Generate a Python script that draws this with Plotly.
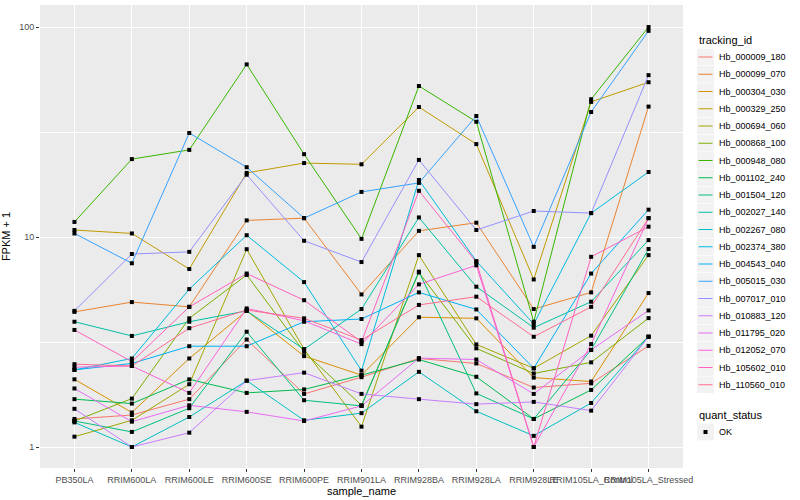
import plotly.graph_objects as go

samples = ["PB350LA", "RRIM600LA", "RRIM600LE", "RRIM600SE", "RRIM600PE", "RRIM901LA",
           "RRIM928BA", "RRIM928LA", "RRIM928LE", "RRIM105LA_Control", "RRIM105LA_Stressed"]

hb_000009_180 = [1.36, 1.42, 1.69, 3.25, 1.79, 2.15, 2.64, 2.5, 1.92, 2.01, 3.03]
hb_000099_070 = [4.4, 4.9, 4.65, 12.0, 12.3, 5.33, 10.7, 11.7, 4.54, 5.45, 41.8]
hb_000304_030 = [2.1, 1.46, 2.64, 4.45, 2.71, 2.2, 4.15, 4.1, 2.14, 2.05, 5.41]
hb_000329_250 = [10.8, 10.4, 7.04, 20.2, 22.5, 22.2, 41.6, 27.7, 6.28, 44.0, 54.6]
hb_000694_060 = [1.12, 1.34, 1.99, 8.75, 2.92, 1.25, 8.2, 3.08, 2.37, 3.39, 8.2]
hb_000868_100 = [1.33, 1.70, 4.1, 6.6, 2.84, 1.58, 6.78, 2.95, 2.24, 2.53, 4.11]
hb_000948_080 = [11.8, 23.5, 26.0, 66.4, 24.8, 9.8, 52.4, 35.4, 3.95, 45.3, 100.0]
hb_001102_240 = [1.69, 1.61, 2.1, 1.81, 1.88, 2.2, 2.61, 2.16, 1.36, 1.87, 3.35]
hb_001504_120 = [1.33, 1.18, 1.53, 3.54, 1.67, 1.57, 6.84, 1.80, 1.36, 2.9, 8.77]
hb_002027_140 = [3.95, 3.38, 3.95, 4.45, 2.92, 4.54, 12.4, 5.8, 3.70, 4.92, 9.67]
hb_002267_080 = [1.31, 1.0, 1.39, 2.07, 1.34, 1.45, 2.28, 1.48, 1.13, 1.62, 3.35]
hb_002374_380 = [2.33, 2.64, 5.65, 10.2, 6.1, 2.31, 18.7, 7.68, 3.85, 13.0, 20.4]
hb_004543_040 = [2.33, 2.5, 3.02, 3.02, 3.95, 4.07, 5.45, 4.52, 2.37, 6.7, 13.5]
hb_005015_030 = [10.4, 7.5, 31.3, 21.5, 12.3, 16.4, 18.1, 37.7, 8.98, 39.4, 95.9]
hb_007017_010 = [4.45, 8.3, 8.5, 19.8, 9.6, 7.6, 23.3, 10.8, 13.3, 13.0, 59.0]
hb_010883_120 = [1.52, 1.0, 1.17, 2.07, 2.26, 1.79, 1.69, 1.6, 1.64, 1.49, 3.35]
hb_011795_020 = [1.9, 1.32, 1.58, 1.47, 1.33, 1.57, 2.65, 2.61, 1.79, 2.9, 4.47]
hb_012052_070 = [2.40, 2.43, 1.81, 4.57, 3.99, 3.09, 5.95, 7.33, 1.0, 3.09, 12.3]
hb_105602_010 = [3.61, 2.55, 4.65, 6.7, 5.0, 3.17, 16.6, 7.6, 1.0, 8.05, 11.2]
hb_110560_010 = [2.48, 2.43, 3.68, 4.49, 4.1, 3.23, 4.75, 5.2, 3.35, 4.65, 12.3]

tracking_ids = ["Hb_000009_180", "Hb_000099_070", "Hb_000304_030", "Hb_000329_250", "Hb_000694_060",
                "Hb_000868_100", "Hb_000948_080", "Hb_001102_240", "Hb_001504_120", "Hb_002027_140",
                "Hb_002267_080", "Hb_002374_380", "Hb_004543_040", "Hb_005015_030", "Hb_007017_010",
                "Hb_010883_120", "Hb_011795_020", "Hb_012052_070", "Hb_105602_010", "Hb_110560_010"]
series = [hb_000009_180, hb_000099_070, hb_000304_030, hb_000329_250, hb_000694_060,
          hb_000868_100, hb_000948_080, hb_001102_240, hb_001504_120, hb_002027_140,
          hb_002267_080, hb_002374_380, hb_004543_040, hb_005015_030, hb_007017_010,
          hb_010883_120, hb_011795_020, hb_012052_070, hb_105602_010, hb_110560_010]
colors = ["#F8766D", "#EA8331", "#D89000", "#C09B00", "#A3A500", "#7CAE00", "#39B600", "#00BB4E",
          "#00BF7D", "#00C1A3", "#00BFC4", "#00BAE0", "#00B0F6", "#35A2FF", "#9590FF", "#C77CFF",
          "#E76BF3", "#FA62DB", "#FF62BC", "#FF6C91"]
status_levels = ["OK"]

FONT = "Liberation Sans, Arial, sans-serif"
W, H = 800, 500
ML, MR, MT, MB = 40, 117, 5, 32
PW, PH = W - ML - MR, H - MT - MB


def px(xp):
    return (xp - ML) / PW


def py(yp):
    return (H - MB - yp) / PH


fig = go.Figure()
for name, vals, col in zip(tracking_ids, series, colors):
    fig.add_trace(go.Scatter(x=samples, y=vals, mode="lines", name=name,
                             line=dict(color=col, width=1), showlegend=False))

all_x = [s for vals in series for s in samples]
all_y = [v for vals in series for v in vals]
fig.add_trace(go.Scatter(x=all_x, y=all_y, mode="markers", name=status_levels[0], showlegend=False,
                         marker=dict(color="black", symbol="square", size=4)))

# ---- manual ggplot-style legends ----
shapes = []
annotations = []
key_x0, key_x1 = 697, 714
text_x = 717
title_y = 40
item_y0, item_dy = 57, 17.25
annotations.append(dict(x=px(key_x0), y=py(title_y), xref="paper", yref="paper", text="tracking_id",
                        showarrow=False, xanchor="left", yanchor="middle", font=dict(size=11, color="black")))
for i, (name, col) in enumerate(zip(tracking_ids, colors)):
    yc = item_y0 + i * item_dy
    shapes.append(dict(type="rect", xref="paper", yref="paper", x0=px(key_x0), x1=px(key_x1),
                       y0=py(yc - 8.3), y1=py(yc + 8.3), fillcolor="#F2F2F2", line=dict(width=0), layer="above"))
    shapes.append(dict(type="line", xref="paper", yref="paper", x0=px(key_x0 + 1.5), x1=px(key_x1 - 1.5),
                       y0=py(yc), y1=py(yc), line=dict(color=col, width=1), layer="above"))
    annotations.append(dict(x=px(text_x), y=py(yc), xref="paper", yref="paper", text=name,
                            showarrow=False, xanchor="left", yanchor="middle", font=dict(size=9, color="black")))

qs_title_y = 415
ok_y = 432
annotations.append(dict(x=px(key_x0), y=py(qs_title_y), xref="paper", yref="paper", text="quant_status",
                        showarrow=False, xanchor="left", yanchor="middle", font=dict(size=11, color="black")))
shapes.append(dict(type="rect", xref="paper", yref="paper", x0=px(key_x0), x1=px(key_x1),
                   y0=py(ok_y - 8.3), y1=py(ok_y + 8.3), fillcolor="#F2F2F2", line=dict(width=0), layer="above"))
kc = (key_x0 + key_x1) / 2
shapes.append(dict(type="rect", xref="paper", yref="paper", x0=px(kc - 2), x1=px(kc + 2),
                   y0=py(ok_y - 2), y1=py(ok_y + 2), fillcolor="black", line=dict(width=0), layer="above"))
annotations.append(dict(x=px(text_x), y=py(ok_y), xref="paper", yref="paper", text=status_levels[0],
                        showarrow=False, xanchor="left", yanchor="middle", font=dict(size=9, color="black")))

fig.update_layout(
    width=W, height=H,
    margin=dict(l=ML, r=MR, t=MT, b=MB, autoexpand=False),
    paper_bgcolor="white", plot_bgcolor="#EBEBEB",
    font=dict(family=FONT, color="black"),
    showlegend=False,
    xaxis=dict(type="category", range=[-0.6, 10.6], showgrid=True, gridcolor="white", gridwidth=1.1,
               tickangle=0, ticks="outside", ticklen=3, tickcolor="#333333",
               tickfont=dict(size=9, color="#4D4D4D"), zeroline=False, automargin=False,
               title=dict(text="sample_name", font=dict(size=11), standoff=0)),
    yaxis=dict(type="log", range=[-0.1, 2.105], tickvals=[1, 10, 100], ticktext=["1", "10", "100"],
               showgrid=True, gridcolor="white", gridwidth=1.1, ticks="outside", ticklen=3,
               tickcolor="#333333", tickfont=dict(size=9, color="#4D4D4D"), zeroline=False,
               automargin=False,
               minor=dict(tickvals=[3.1623, 31.623], showgrid=True, gridcolor="white", gridwidth=0.5, ticks=""),
               title=dict(text="FPKM + 1", font=dict(size=11), standoff=8)),
    shapes=shapes,
    annotations=annotations,
)

fig.write_html("out.html", config={"displayModeBar": False},
               post_script="document.body.style.margin='0';document.body.style.overflow='hidden';")
